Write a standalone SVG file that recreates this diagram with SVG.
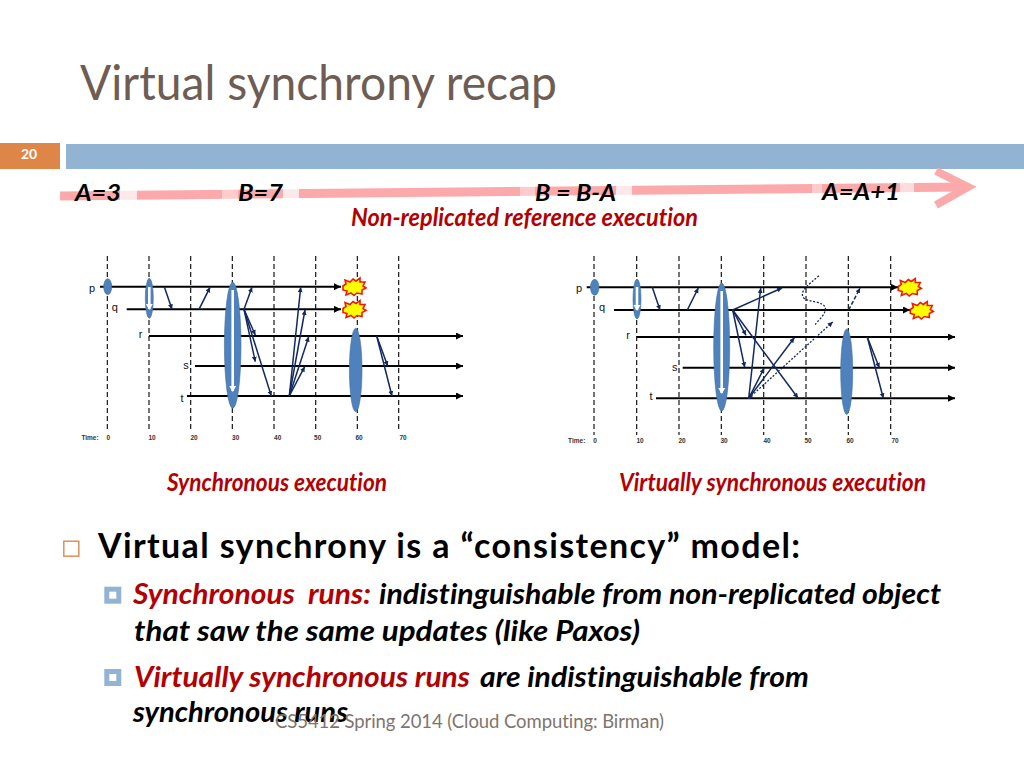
<svg xmlns="http://www.w3.org/2000/svg" width="1024" height="768" viewBox="0 0 1024 768">
<style>
text{font-family:"Lato","Liberation Sans",sans-serif;font-variant-ligatures:none}
.lab{font-size:23px;font-weight:700;font-style:italic;fill:#000}
.red{font-size:25px;font-weight:700;font-style:italic;fill:#b30000}
.blk{font-size:29px;font-weight:700;font-style:italic;fill:#000}
.rd2{font-size:29px;font-weight:700;font-style:italic;fill:#b30000}
.tl{stroke:#000;stroke-width:1.1;stroke-dasharray:5 3;fill:none}
.pl{stroke:#000;stroke-width:2;fill:none;marker-end:url(#ka)}
.msg{stroke:#12295f;stroke-width:1.5;fill:none;marker-end:url(#na)}
.dot{stroke:#12295f;stroke-width:1.3;stroke-dasharray:2 1.6;fill:none}
.dsh{stroke:#12295f;stroke-width:1.5;stroke-dasharray:4 2;fill:none;marker-end:url(#na)}
.el{fill:#4f81bd;stroke:#41719c;stroke-width:.6}
.wh{stroke:#fff;stroke-width:2.6;fill:none;marker-end:url(#wa)}
.pn{font-size:11px;font-weight:400;font-family:"Liberation Sans",sans-serif;fill:#111}
.tm{font-size:6.5px;font-weight:700;font-family:"Liberation Sans",sans-serif;fill:#333}
.bl2{fill:#fff;stroke:#93b3d3;stroke-width:5}
</style>
<defs>
<marker id="ka" markerUnits="userSpaceOnUse" markerWidth="8" markerHeight="7" refX="7" refY="3.5" orient="auto"><path d="M0 0L7 3.5L0 7z" fill="#000"/></marker>
<marker id="na" markerUnits="userSpaceOnUse" markerWidth="6" markerHeight="6" refX="5" refY="2.5" orient="auto"><path d="M0 0L5 2.5L0 5z" fill="#12295f"/></marker>
<marker id="nb" markerUnits="userSpaceOnUse" markerWidth="6" markerHeight="6" refX="1" refY="2.5" orient="auto"><path d="M5 0L0 2.5L5 5z" fill="#12295f"/></marker>
<marker id="wa" markerUnits="userSpaceOnUse" markerWidth="8" markerHeight="8" refX="5" refY="3.5" orient="auto"><path d="M0 0L6 3.5L0 7z" fill="#fff"/></marker>
<polygon id="boom" points="-11,-1 -8,-3 -9,-7 -4,-5 -1,-8 2,-6 6,-9 6,-5 11,-5 9,-1 12,1 8,3 8,7 3,6 0,8.5 -3,6 -8,8 -7,4 -11,3" fill="#ffff00" stroke="#f01808" stroke-width="1.6"/>
</defs>

<g id="title"><text x="80" y="100" font-size="48" fill="#6f5d54" textLength="477" lengthAdjust="spacingAndGlyphs">Virtual synchrony recap</text></g>
<g id="header-bar">
<rect x="66" y="144" width="958" height="25" fill="#93b3d3"/>
<rect x="0" y="143" width="60" height="26" fill="#dd8648"/>
<text x="29" y="159" font-size="14" font-weight="700" fill="#fff" text-anchor="middle">20</text>
</g>

<g id="timeline">
<path d="M60 196L966 187" stroke="#fca9ab" stroke-width="9" fill="none"/>
<path d="M936 171L968 187L936 205" stroke="#fca9ab" stroke-width="8" fill="none"/>
<rect x="120" y="188" width="17" height="16" fill="#fff" opacity=".75"/>
<rect x="222" y="188" width="16" height="16" fill="#fff" opacity=".4"/>
<rect x="283" y="187" width="16" height="15" fill="#fff" opacity=".75"/>
<rect x="520" y="184" width="15" height="16" fill="#fff" opacity=".4"/>
<rect x="616" y="184" width="16" height="15" fill="#fff" opacity=".75"/>
<rect x="812" y="182" width="10" height="15" fill="#fff" opacity=".4"/>
<rect x="900" y="182" width="14" height="14" fill="#fff" opacity=".6"/>
<text class="lab" x="75" y="201" textLength="46" lengthAdjust="spacingAndGlyphs">A=3</text>
<text class="lab" x="238" y="201" textLength="45" lengthAdjust="spacingAndGlyphs">B=7</text>
<text class="lab" x="535" y="201" textLength="81" lengthAdjust="spacingAndGlyphs">B = B-A</text>
<text class="lab" x="822" y="200" textLength="78" lengthAdjust="spacingAndGlyphs">A=A+1</text>
<text class="red" x="351" y="226" textLength="347" lengthAdjust="spacingAndGlyphs">Non-replicated reference execution</text>
</g>

<g id="sync-diagram">
<g id="sync-time-lines">
<path class="tl" d="M107.300 256V432M149 256V432M190.700 256V432M232.300 256V432M274 256V432M315.700 256V432M357.300 256V432M398.700 256V432"/>
</g>
<g id="sync-processes">
<path class="pl" d="M100 286.700H341"/>
<path class="pl" d="M126.700 309.300H341"/>
<path class="pl" d="M149 336H463"/>
<path class="pl" d="M195 366H463"/>
<path class="pl" d="M187 396H463"/>
<text class="pn" x="92" y="292" text-anchor="middle">p</text>
<text class="pn" x="114.700" y="311" text-anchor="middle">q</text>
<text class="pn" x="140.700" y="338" text-anchor="middle">r</text>
<text class="pn" x="186" y="369" text-anchor="middle">s</text>
<text class="pn" x="182" y="402" text-anchor="middle">t</text>
</g>
<g id="sync-views">
<ellipse class="el" cx="107.700" cy="286.700" rx="4" ry="8"/>
<ellipse class="el" cx="149.300" cy="298.300" rx="4" ry="20"/>
<path class="wh" d="M149.300 287V309"/>
<ellipse class="el" cx="232.700" cy="345.300" rx="8.300" ry="63"/>
<path class="wh" d="M232.700 290V391"/>
<ellipse class="el" cx="355.700" cy="370" rx="6.300" ry="41.700"/>
</g>
<g id="sync-messages">
<path class="msg" d="M164.300 286.700L172 309.300"/>
<path class="msg" d="M199 309.300L210 287.300"/>
<path class="msg" d="M244 309.300L252 287.300"/>
<path class="msg" d="M244 309.300L255.300 335"/>
<path class="msg" d="M244 309.300L255.300 361.700"/>
<path class="msg" d="M244 309.300L271.300 396"/>
<path class="msg" d="M289.300 396L300.700 287.300"/>
<path class="msg" d="M289.300 396L305 310"/>
<path class="msg" d="M289.300 396L308.700 336.700"/>
<path class="msg" d="M289.300 396L304.700 366.700"/>
<path class="msg" d="M376.700 336L387.700 366"/>
<path class="msg" d="M376.700 336L392 396"/>
</g>
<g id="sync-crashes">
<use href="#boom" x="354" y="287"/>
<use href="#boom" x="354" y="309.500"/>
</g>
<g id="sync-axis">
<text class="tm" x="90" y="439.500" text-anchor="middle">Time:</text>
<text class="tm" x="108.300" y="439.500" text-anchor="middle">0</text>
<text class="tm" x="152" y="439.500" text-anchor="middle">10</text>
<text class="tm" x="194" y="439.500" text-anchor="middle">20</text>
<text class="tm" x="235.700" y="439.500" text-anchor="middle">30</text>
<text class="tm" x="277.700" y="439.500" text-anchor="middle">40</text>
<text class="tm" x="317.700" y="439.500" text-anchor="middle">50</text>
<text class="tm" x="359" y="439.500" text-anchor="middle">60</text>
<text class="tm" x="403" y="439.500" text-anchor="middle">70</text>
</g>
<text class="red" x="167" y="491" textLength="220" lengthAdjust="spacingAndGlyphs">Synchronous execution</text>
</g>

<g id="virtual-sync-diagram">
<g id="vs-time-lines">
<path class="tl" d="M594 256V435M636.700 256V435M679 256V435M721.300 256V435M763.700 256V435M806 256V435M848.300 256V435M890.700 256V435"/>
</g>
<g id="vs-processes">
<path class="pl" d="M586.700 287.300H898"/>
<path class="pl" d="M614 310H910"/>
<path class="pl" d="M636.700 337H955"/>
<path class="pl" d="M682.700 367.700H955"/>
<path class="pl" d="M656 398.300H955"/>
<text class="pn" x="579" y="292" text-anchor="middle">p</text>
<text class="pn" x="602" y="311" text-anchor="middle">q</text>
<text class="pn" x="628" y="339" text-anchor="middle">r</text>
<text class="pn" x="674.700" y="371" text-anchor="middle">s</text>
<text class="pn" x="651" y="400" text-anchor="middle">t</text>
</g>
<g id="vs-views">
<ellipse class="el" cx="594.700" cy="287.300" rx="4.300" ry="8"/>
<ellipse class="el" cx="637" cy="299" rx="4" ry="20"/>
<path class="wh" d="M637 287V310"/>
<ellipse class="el" cx="721.700" cy="347" rx="8" ry="64"/>
<path class="wh" d="M721.700 291V393"/>
<ellipse class="el" cx="846.700" cy="371.700" rx="6" ry="42.700"/>
</g>
<g id="vs-messages">
<path class="msg" d="M652.300 287.300L660 310"/>
<path class="msg" d="M687.300 310L698.300 288"/>
<path class="msg" d="M732.700 310L782 288"/>
<path class="msg" d="M732.700 310L746 335.300"/>
<path class="msg" d="M732.700 310L744.700 367.300"/>
<path class="msg" d="M732.700 310L798 398"/>
<path class="msg" d="M748.700 398.300L760.700 288"/>
<path class="msg" d="M748.700 398.300L764 368.300"/>
<path class="msg" d="M748.700 398.300L794.300 337.700"/>
<path class="dot" d="M748.700 398.300L832.700 322" marker-start="url(#nb)" marker-end="url(#na)"/>
<path class="dsh" d="M848.700 310L860 288"/>
<path class="dot" d="M819 275.700C808 285 800 291 803 297C806 303 825 300 825.500 309C825 316 816 322 815 325"/>
<path class="msg" d="M867.300 337L879.300 367.700"/>
<path class="msg" d="M867.300 337L883.300 398.300"/>
</g>
<g id="vs-crashes">
<use href="#boom" x="909.300" y="287.500"/>
<use href="#boom" x="921.300" y="310.500"/>
</g>
<g id="vs-axis">
<text class="tm" x="576.700" y="442.500" text-anchor="middle">Time:</text>
<text class="tm" x="595" y="442.500" text-anchor="middle">0</text>
<text class="tm" x="640" y="442.500" text-anchor="middle">10</text>
<text class="tm" x="682" y="442.500" text-anchor="middle">20</text>
<text class="tm" x="724" y="442.500" text-anchor="middle">30</text>
<text class="tm" x="767" y="442.500" text-anchor="middle">40</text>
<text class="tm" x="808" y="442.500" text-anchor="middle">50</text>
<text class="tm" x="850" y="442.500" text-anchor="middle">60</text>
<text class="tm" x="895" y="442.500" text-anchor="middle">70</text>
</g>
<text class="red" x="619" y="491" textLength="307" lengthAdjust="spacingAndGlyphs">Virtually synchronous execution</text>
</g>

<g id="body-text">
<rect x="63.800" y="541.200" width="15" height="15" fill="#fff" stroke="#d9925e" stroke-width="1.500"/>
<text x="98" y="558" font-size="34" font-weight="700" fill="#000" textLength="702" lengthAdjust="spacing">Virtual synchrony is a “consistency” model:</text>
<rect class="bl2" x="106.800" y="589.200" width="12" height="12"/>
<text class="rd2" x="133" y="604" textLength="238" lengthAdjust="spacingAndGlyphs" xml:space="preserve">Synchronous  runs:</text>
<text class="blk" x="379" y="604" textLength="562" lengthAdjust="spacingAndGlyphs">indistinguishable from non-replicated object</text>
<text class="blk" x="134" y="641" textLength="506" lengthAdjust="spacingAndGlyphs">that saw the same updates (like Paxos)</text>
<rect class="bl2" x="106.800" y="671.500" width="12" height="12"/>
<text class="rd2" x="134" y="687" textLength="336" lengthAdjust="spacingAndGlyphs">Virtually synchronous runs</text>
<text class="blk" x="480" y="687" textLength="329" lengthAdjust="spacingAndGlyphs">are indistinguishable from</text>
<text class="blk" x="133" y="722" textLength="215" lengthAdjust="spacingAndGlyphs">synchronous runs</text>
</g>
<g id="footer"><text x="275" y="728" font-size="18.500" fill="#7f746d" textLength="389" lengthAdjust="spacing">CS5412 Spring 2014 (Cloud Computing: Birman)</text></g>
</svg>
